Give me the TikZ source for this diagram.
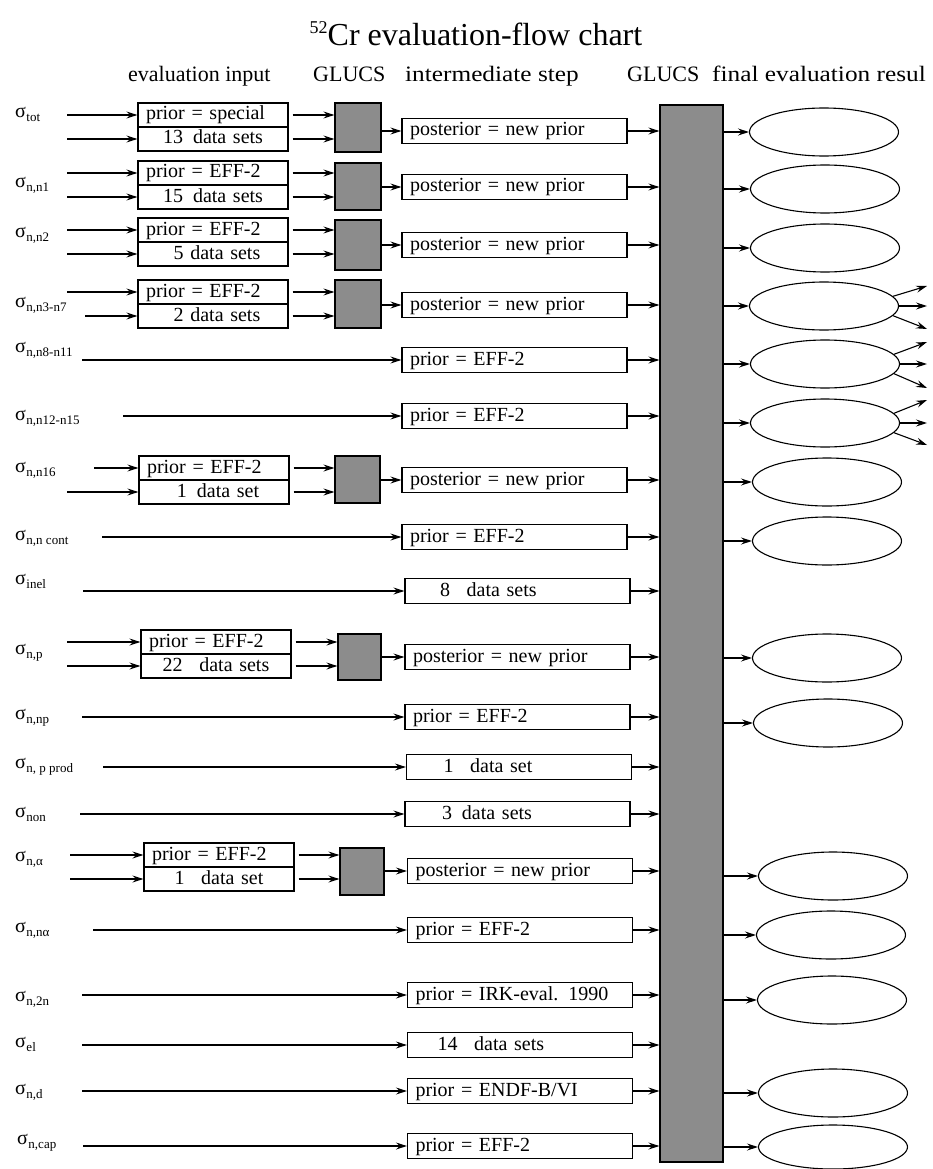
\documentclass[tikz,border=0pt]{standalone}
\usepackage{fontspec}
\setmainfont{Liberation Serif}
\usetikzlibrary{arrows.meta,shapes.geometric}
\newcommand{\sg}[1]{σ\kern0.5pt\raisebox{-4pt}{\fontsize{13}{13}\selectfont #1}}
\begin{document}
\begin{tikzpicture}[x=1pt,y=-1pt, font=\fontsize{20}{24}\selectfont,
  arr/.style={line width=1.1pt,-{Stealth[length=11pt,width=7pt,inset=4pt]}},
  box/.style={draw,line width=1.2pt,inner ysep=0pt,inner xsep=8pt,minimum height=24pt,
              text height=14pt,text depth=4pt,align=left},
  inbox/.style={box,text width=134pt},
  dbox/.style={box,text width=134pt,align=center},
  midbox/.style={box,text width=209pt,minimum height=25pt},
  gl/.style={draw,line width=1.2pt,fill=black!45,inner sep=0pt},
  res/.style={draw,ellipse,line width=1.1pt,minimum width=149pt,minimum height=48pt,inner sep=0pt},
  lab/.style={anchor=base west,inner sep=0pt},
  hd/.style={anchor=base west,inner sep=0pt,font=\fontsize{22}{26}\selectfont}]

\useasboundingbox (0,0) rectangle (932,1169);

% title and headings
\node[anchor=base,inner sep=0pt,font=\fontsize{32}{38}\selectfont] (title) at (476,46)
  {\raisebox{12pt}{\fontsize{18}{18}\selectfont 52}Cr evaluation-flow chart};
\node[hd] (h1) at (128,82) {evaluation input};
\node[hd] (h2) at (313,82) {GLUCS};
\node[hd] (h3) at (405,82) {\scalebox{1.15}[1]{intermediate step}};
\node[hd] (h4) at (627,82) {GLUCS};
\node[hd] (h5) at (712,82) {\scalebox{1.15}[1]{final evaluation resul}};

% big GLUCS column
\node[gl,minimum width=63pt,minimum height=1057pt] (col) at (691.5,633.5) {};

% labels
\node[lab] (l1) at (15,118) {\sg{tot}};
\node[lab] (l2) at (15,188) {\sg{n,n1}};
\node[lab] (l3) at (15,237) {\sg{n,n2}};
\node[lab] (l4) at (15,307) {\sg{n,n3-n7}};
\node[lab] (l5) at (15,352) {\sg{n,n8-n11}};
\node[lab] (l6) at (15,420) {\sg{n,n12-n15}};
\node[lab] (l7) at (15,472) {\sg{n,n16}};
\node[lab] (l8) at (15,540) {\sg{n,n cont}};
\node[lab] (l9) at (15,584) {\sg{inel}};
\node[lab] (l10) at (15,654) {\sg{n,p}};
\node[lab] (l11) at (15,719) {\sg{n,np}};
\node[lab] (l12) at (15,768) {\sg{n, p prod}};
\node[lab] (l13) at (15,817) {\sg{non}};
\node[lab] (l14) at (15,861) {\sg{n,α}};
\node[lab] (l15) at (15,932) {\sg{n,nα}};
\node[lab] (l16) at (15,1001) {\sg{n,2n}};
\node[lab] (l17) at (15,1047) {\sg{el}};
\node[lab] (l18) at (15,1094) {\sg{n,d}};
\node[lab] (l19) at (17,1144) {\sg{n,cap}};

% input boxes
\node[inbox] (p1) at (213,115) {prior = special};
\node[dbox]  (d1) at (213,139) {13\enspace data sets};
\node[inbox] (p2) at (213,173) {prior = EFF-2};
\node[dbox]  (d2) at (213,197) {15\enspace data sets};
\node[inbox] (p3) at (213,230) {prior = EFF-2};
\node[dbox]  (d3) at (213,254) {\hspace*{8pt}5 data sets};
\node[inbox] (p4) at (213,292) {prior = EFF-2};
\node[dbox]  (d4) at (213,316) {\hspace*{8pt}2 data sets};
\node[inbox] (p7) at (214,468) {prior = EFF-2};
\node[dbox]  (d7) at (214,492) {\hspace*{8pt}1\enspace data set};
\node[inbox] (p10) at (216,642) {prior = EFF-2};
\node[dbox]  (d10) at (216,666) {22\enspace\ data sets};
\node[inbox] (p14) at (219,855) {prior = EFF-2};
\node[dbox]  (d14) at (219,879) {1\enspace\ data set};

% small GLUCS boxes
\node[gl,minimum width=46pt,minimum height=49pt] (g1) at (358,127.5) {};
\node[gl,minimum width=46pt,minimum height=47pt] (g2) at (358,186.5) {};
\node[gl,minimum width=46pt,minimum height=50pt] (g3) at (358,245) {};
\node[gl,minimum width=46pt,minimum height=48pt] (g4) at (358,304) {};
\node[gl,minimum width=45pt,minimum height=47pt] (g7) at (357.5,479.5) {};
\node[gl,minimum width=43pt,minimum height=46pt] (g10) at (359.5,657) {};
\node[gl,minimum width=44pt,minimum height=47pt] (g14) at (362,871.5) {};

% intermediate boxes
\node[midbox] (m1) at (514.5,131) {posterior = new prior};
\node[midbox] (m2) at (514.5,187) {posterior = new prior};
\node[midbox] (m3) at (514.5,245) {posterior = new prior};
\node[midbox] (m4) at (514.5,305) {posterior = new prior};
\node[midbox] (m5) at (514.5,360) {prior = EFF-2};
\node[midbox] (m6) at (514.5,416) {prior = EFF-2};
\node[midbox] (m7) at (514.5,480) {posterior = new prior};
\node[midbox] (m8) at (514.5,537) {prior = EFF-2};
\node[midbox] (m9) at (517.5,591) {\hspace*{27pt}8\enspace\ data sets};
\node[midbox] (m10) at (517.5,657) {posterior = new prior};
\node[midbox] (m11) at (517.5,717) {prior = EFF-2};
\node[midbox] (m12) at (519,767) {\hspace*{29pt}1\enspace\ data set};
\node[midbox] (m13) at (517.5,814) {\hspace*{29pt}3\, data sets};
\node[midbox] (m14) at (520,871) {posterior = new prior};
\node[midbox] (m15) at (520,930) {prior = EFF-2};
\node[midbox] (m16) at (520,995) {prior = IRK-eval. 1990};
\node[midbox] (m17) at (520,1045) {\hspace*{22pt}14\enspace\ data sets};
\node[midbox] (m18) at (520,1091) {prior = ENDF-B/VI};
\node[midbox] (m19) at (520,1146) {prior = EFF-2};

% result ellipses
\node[res] (e1) at (824,132) {};
\node[res] (e2) at (825,189) {};
\node[res] (e3) at (825,248) {};
\node[res] (e4) at (824,306) {};
\node[res] (e5) at (825,364) {};
\node[res] (e6) at (825,423) {};
\node[res] (e7) at (827,482) {};
\node[res] (e8) at (827,541) {};
\node[res] (e10) at (827,658) {};
\node[res] (e11) at (828,723) {};
\node[res] (e14) at (833,876) {};
\node[res] (e15) at (831,935) {};
\node[res] (e16) at (832,1000) {};
\node[res] (e18) at (833,1093) {};
\node[res,minimum height=44pt] (e19) at (833,1147) {};

% input arrows start points
\coordinate (a1) at (67,115);  \coordinate (b1) at (67,139);
\coordinate (a2) at (67,173);  \coordinate (b2) at (67,197);
\coordinate (a3) at (67,230);  \coordinate (b3) at (67,254);
\coordinate (a4) at (67,292);  \coordinate (b4) at (85,316);
\coordinate (a7) at (94,468);  \coordinate (b7) at (67,492);
\coordinate (a10) at (67,642); \coordinate (b10) at (67,666);
\coordinate (a14) at (70,855); \coordinate (b14) at (70,879);
\coordinate (c5) at (82,360);
\coordinate (c6) at (123,416);
\coordinate (c8) at (102,537);
\coordinate (c9) at (83,591);
\coordinate (c11) at (82,717);
\coordinate (c12) at (103,767);
\coordinate (c13) at (80,814);
\coordinate (c15) at (93,930);
\coordinate (c16) at (82,995);
\coordinate (c17) at (82,1045);
\coordinate (c18) at (82,1091);
\coordinate (c19) at (83,1146);

% rows with input boxes
\foreach \r in {1,2,3,4,7,10,14}{
  \draw[arr] (a\r) -- (p\r.west);
  \draw[arr] (b\r) -- (d\r.west);
  \draw[arr,shorten <=4pt] (p\r.east) -- (p\r.east -| g\r.west);
  \draw[arr,shorten <=4pt] (d\r.east) -- (d\r.east -| g\r.west);
  \draw[arr] (g\r.east |- m\r.west) -- (m\r.west);
}
% direct rows
\foreach \r in {5,6,8,9,11,12,13,15,16,17,18,19}{
  \draw[arr] (c\r) -- (m\r.west);
}
% intermediate to column
\foreach \r in {1,...,19}{
  \draw[arr] (m\r.east) -- (m\r.east -| col.west);
}
% column to results
\foreach \r in {1,2,3,4,5,6,7,8,10,11,14,15,16,18,19}{
  \draw[arr] (col.east |- e\r.west) -- (e\r.west);
}

% outgoing arrows of rows 4-6
\coordinate (u4) at (927,286); \coordinate (v4) at (927,306); \coordinate (w4) at (927,329);
\coordinate (u5) at (927,342); \coordinate (v5) at (927,364); \coordinate (w5) at (927,388);
\coordinate (u6) at (927,400); \coordinate (v6) at (927,423); \coordinate (w6) at (927,445);
\foreach \r in {4,5,6}{
  \draw[arr] (e\r.8) -- (u\r);
  \draw[arr] (e\r.east) -- (v\r);
  \draw[arr] (e\r.-8) -- (w\r);
}
\end{tikzpicture}
\end{document}
